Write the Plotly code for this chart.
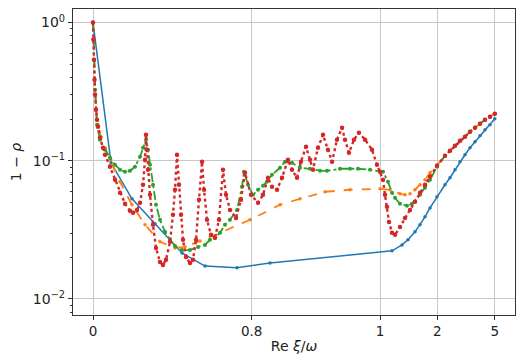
import numpy as np
import plotly.graph_objects as go

# values (x = Re xi/omega, y = 1 - rho)
blue_x = [0, 0.1215, 0.2533, 0.3854, 0.5240, 0.6282, 0.7517, 0.8531, 1.0437, 1.1469, 1.2379, 1.3718,
          1.4857, 1.6147, 1.7588, 1.986, 2.2824, 2.4872, 2.7073, 2.9424, 3.1928, 3.4584, 3.7392,
          4.0352, 4.3463, 4.6726, 5.0]
blue_y = [1.0, 0.0967, 0.0530, 0.0350, 0.0215, 0.0173, 0.0168, 0.0182, 0.0223, 0.0246, 0.0268, 0.0306,
          0.0344, 0.0393, 0.0456, 0.0548, 0.0670, 0.0753, 0.0861, 0.0984, 0.1105, 0.1242, 0.1373,
          0.1518, 0.1677, 0.1823, 0.2015]

orange_x = [0, 0.00696, 0.0139, 0.0208, 0.0345, 0.0550, 0.0819, 0.1149, 0.1793, 0.2533, 0.3295, 0.4124,
            0.4898, 0.5384, 0.6067, 0.6892, 0.7948, 0.8786, 0.9223, 0.9633, 0.9891, 1.0, 1.0303, 1.1214,
            1.1897, 1.2731, 1.3718, 1.4857, 1.6147, 1.7588, 1.986, 2.2824, 2.4872, 2.7073, 2.9424,
            3.1928, 3.4584, 3.7392, 4.0352, 4.3463, 4.6726, 5.0]
orange_y = [1.0, 0.539, 0.327, 0.234, 0.1823, 0.1493, 0.1242, 0.1017, 0.0705, 0.0480, 0.0344, 0.0259,
            0.0234, 0.0238, 0.0263, 0.0301, 0.0374, 0.0480, 0.0530, 0.0596, 0.0617, 0.0627, 0.0617, 0.0577,
            0.0567, 0.0577, 0.0617, 0.0670, 0.0728, 0.0818, 0.0936, 0.1087, 0.1182, 0.1284, 0.1396,
            0.1493, 0.1622, 0.1734, 0.1854, 0.1982, 0.2084, 0.219]

green_x = [0, 0.00696, 0.0139, 0.0208, 0.0277, 0.0482, 0.0819, 0.1149, 0.1474, 0.1793, 0.2106, 0.2412,
           0.2712, 0.3008, 0.3181, 0.3352, 0.3465, 0.3578, 0.3745, 0.3908, 0.4124, 0.4388, 0.4646, 0.4898,
           0.5240, 0.5617, 0.5979, 0.6282, 0.6491, 0.6694, 0.6892, 0.7083, 0.7268, 0.7517, 0.7688, 0.7754,
           0.7885, 0.8042, 0.8193, 0.8338, 0.8450, 0.8584, 0.8786, 0.8905, 0.9060, 0.9223, 0.9405, 0.9563,
           0.9659, 0.9806, 0.9891, 0.9941, 0.99879, 1.00273, 1.0194, 1.0437, 1.0683, 1.1214, 1.2213,
           1.3108, 1.4857, 1.6147, 1.7588, 1.986, 2.2824, 2.4872, 2.7073, 2.9424, 3.1928, 3.4584, 3.7392,
           4.0352, 4.3463, 4.6726, 5.0]
green_y = [1.0, 0.539, 0.327, 0.234, 0.1823, 0.1420, 0.1202, 0.1051, 0.0936, 0.0861, 0.0832, 0.0846,
           0.0905, 0.1069, 0.1242, 0.1420, 0.1202, 0.0936, 0.0670, 0.0480, 0.0374, 0.0306, 0.0268, 0.0242,
           0.0226, 0.0226, 0.0238, 0.0246, 0.0268, 0.0277, 0.0301, 0.0344, 0.0374, 0.0441, 0.0648, 0.0832,
           0.0670, 0.0567, 0.0617, 0.0659, 0.0705, 0.0792, 0.0890, 0.0984, 0.0967, 0.0890, 0.0875, 0.0846,
           0.0846, 0.0875, 0.0875, 0.0875, 0.0861, 0.0832, 0.0705, 0.0586, 0.0539, 0.0488, 0.0472,
           0.0488, 0.0567, 0.0637, 0.0728, 0.0905, 0.1087, 0.1182, 0.1284, 0.1396, 0.1493, 0.1622, 0.1734,
           0.1854, 0.1982, 0.2084, 0.219]

red_x = [0, 0.002, 0.00696, 0.0104, 0.0139, 0.0208, 0.0277, 0.0345, 0.0482, 0.0685, 0.0819, 0.1149,
         0.1474, 0.1793, 0.2106, 0.2412, 0.2593, 0.2831, 0.3008, 0.3181, 0.3295, 0.3352, 0.3408, 0.3465,
         0.3578, 0.3745, 0.3908, 0.4124, 0.4283, 0.4440, 0.4646, 0.4797, 0.4898, 0.4997, 0.5096, 0.5192,
         0.5288, 0.5431, 0.5617, 0.5754, 0.5890, 0.6023, 0.6155, 0.6240, 0.6366, 0.6532, 0.6694, 0.6853,
         0.7008, 0.7121, 0.7268, 0.7483, 0.7654, 0.7787, 0.7980, 0.8193, 0.8338, 0.8478, 0.8584, 0.8712,
         0.8834, 0.8972, 0.9060, 0.9164, 0.9242, 0.9335, 0.9405, 0.9455, 0.9533, 0.9606, 0.9671, 0.9721,
         0.9775, 0.9825, 0.9851, 0.9883, 0.9918, 0.9946, 0.9973, 0.99922, 0.99989, 1.0, 1.00273, 1.0076,
         1.0149, 1.0246, 1.0437, 1.0683, 1.1214, 1.1897, 1.2731, 1.3718, 1.4857, 1.6147, 1.7588, 1.986,
         2.2824, 2.4872, 2.7073, 2.9424, 3.1928, 3.4584, 3.7392, 4.0352, 4.3463, 4.6726, 5.0]
red_y = [1.0, 0.753, 0.539, 0.386, 0.301, 0.234, 0.1982, 0.1764, 0.1468, 0.1242, 0.1105, 0.0905,
         0.0728, 0.0586, 0.0488, 0.0434, 0.0420, 0.0441, 0.0496, 0.0670, 0.1017, 0.1543, 0.1202, 0.0861,
         0.0567, 0.0344, 0.0234, 0.0185, 0.0176, 0.0192, 0.0259, 0.0406, 0.0617, 0.1105, 0.0670, 0.0406,
         0.0268, 0.0201, 0.0182, 0.0192, 0.0268, 0.0522, 0.0984, 0.0617, 0.0374, 0.0291, 0.0277, 0.0374,
         0.0861, 0.0567, 0.0441, 0.0386, 0.0522, 0.0818, 0.0567, 0.0496, 0.0567, 0.0753, 0.0648, 0.0617,
         0.0753, 0.1017, 0.0861, 0.0753, 0.0984, 0.1263, 0.1017, 0.0861, 0.1242, 0.1543, 0.1202, 0.0984,
         0.1420, 0.1734, 0.1420, 0.1143, 0.1420, 0.1595, 0.1420, 0.1202, 0.0936, 0.0832, 0.0728, 0.0567,
         0.0464, 0.0361, 0.0301, 0.0291, 0.0332, 0.0386, 0.0441, 0.0505, 0.0586, 0.0670, 0.0766, 0.0920,
         0.1087, 0.1182, 0.1284, 0.1396, 0.1493, 0.1622, 0.1734, 0.1854, 0.1982, 0.2084, 0.219]

x_ticks = [0, 0.8, 1, 2, 5]
x_tick_labels = ["0", "0.8", "1", "2", "5"]


# the x axis is stretched: sqrt-like on both sides of 1
def scale_x(x):
    x = np.asarray(x, dtype=float)
    return np.where(x <= 1, 1 - np.sqrt(np.clip(1 - x, 0, None)),
                    1 + 0.2 * np.sqrt(np.clip(x - 1, 0, None)))


fig = go.Figure()
fig.add_trace(go.Scatter(x=scale_x(blue_x), y=blue_y, mode="lines+markers",
                         line=dict(color="#1f77b4", width=1.5),
                         marker=dict(size=3.5, color="#1f77b4")))
fig.add_trace(go.Scatter(x=scale_x(orange_x), y=orange_y, mode="lines+markers",
                         line=dict(color="#ff7f0e", width=1.8, dash="dash"),
                         marker=dict(size=3.5, color="#ff7f0e")))
fig.add_trace(go.Scatter(x=scale_x(green_x), y=green_y, mode="lines+markers",
                         line=dict(color="#2ca02c", width=1.8, dash="dashdot"),
                         marker=dict(size=4, color="#2ca02c")))
fig.add_trace(go.Scatter(x=scale_x(red_x), y=red_y, mode="lines+markers",
                         line=dict(color="#d62728", width=2.4, dash="dot"),
                         marker=dict(size=4.5, color="#d62728")))

minor_y = [m * 10.0 ** e for e in [-3, -2, -1, 0] for m in range(2, 10)]

fig.update_xaxes(range=[-0.0697, 1.4704], tickvals=scale_x(x_ticks), ticktext=x_tick_labels,
                 ticks="outside", ticklen=4, tickcolor="#333", showgrid=True, gridcolor="#c8c8c8",
                 gridwidth=1, zeroline=False, showline=True, mirror=True, linecolor="#333",
                 linewidth=1.2, automargin=False, tickfont=dict(size=13.5),
                 title=dict(text="Re <i>ξ</i>/<i>ω</i>", standoff=2, font=dict(size=14)))
fig.update_yaxes(type="log", range=[-2.116, 0.098], tickvals=[0.01, 0.1, 1],
                 ticktext=["10<sup>−2</sup>", "10<sup>−1</sup>", "10<sup>0</sup>"],
                 ticks="outside", ticklen=4, tickcolor="#333", showgrid=True, gridcolor="#c8c8c8",
                 gridwidth=1, zeroline=False, showline=True, mirror=True, linecolor="#333",
                 linewidth=1.2, automargin=False, tickfont=dict(size=14),
                 title=dict(text="1 − <i>ρ</i>", standoff=8, font=dict(size=14)),
                 minor=dict(tickvals=minor_y, ticks="outside", ticklen=2, tickcolor="#333",
                            showgrid=False))

# the page body adds 8px on the left and top, so the figure is 8px smaller
fig.update_layout(width=519, height=351, margin=dict(l=65, r=12, t=1, b=44),
                  plot_bgcolor="white", paper_bgcolor="white", showlegend=False,
                  font=dict(family="DejaVu Sans", size=13, color="#222"))

fig.write_html("out.html")
